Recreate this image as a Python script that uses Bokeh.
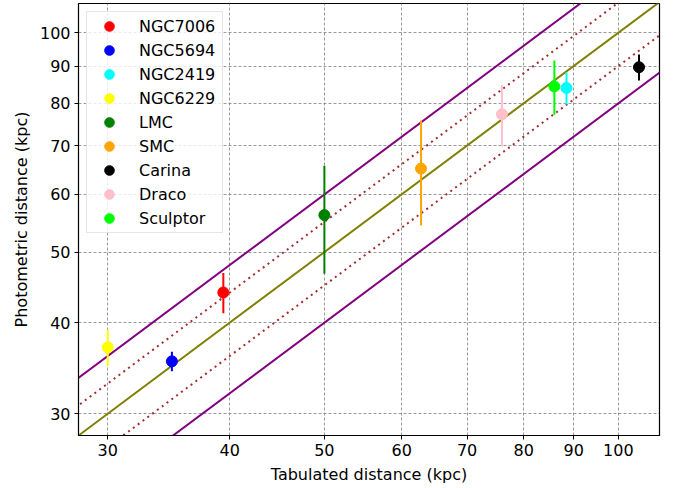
from bokeh.plotting import figure
from bokeh.models import Range1d, FixedTicker, NumeralTickFormatter, Legend, LegendItem
from bokeh.embed import file_html
from bokeh.resources import INLINE

# ---- data ----
names = ["NGC7006", "NGC5694", "NGC2419", "NGC6229", "LMC", "SMC", "Carina", "Draco", "Sculptor"]
colors = ["red", "blue", "cyan", "yellow", "green", "orange", "black", "pink", "lime"]
tabulated = [39.4, 34.9, 88.5, 30.0, 50.0, 62.8, 105.0, 76.0, 86.0]
photometric = [44.0, 35.4, 84.0, 37.0, 56.2, 65.1, 89.7, 77.3, 84.4]
errors = [2.8, 1.1, 4.3, 2.1, 9.5, 10.7, 3.7, 7.5, 7.2]

ticks = [30, 40, 50, 60, 70, 80, 90, 100]
line_x = [20.0, 130.0]
line_factors = [1.0, 1.1, 0.9, 1.2, 0.8]
line_colors = ["#808000", "#a52a2a", "#a52a2a", "#800080", "#800080"]
line_dashes = ["solid", "2 4", "2 4", "solid", "solid"]

FONT = "DejaVu Sans"
FS = "16px"

p = figure(width=674, height=488, x_axis_type="log", y_axis_type="log",
           x_range=Range1d(28.0, 110.2), y_range=Range1d(28.0, 109.7),
           output_backend="svg", toolbar_location=None,
           min_border_left=78, min_border_right=15, min_border_top=3, min_border_bottom=53)
p.background_fill_color = "white"
p.border_fill_color = "white"
p.outline_line_color = "black"
p.outline_line_width = 1.2
p.outline_line_alpha = 1.0

for ax, lab in ((p.xaxis[0], "Tabulated distance (kpc)"), (p.yaxis[0], "Photometric distance (kpc)")):
    ax.ticker = FixedTicker(ticks=ticks, minor_ticks=[])
    ax.formatter = NumeralTickFormatter(format="0")
    ax.axis_label = lab
    ax.axis_label_text_font = FONT
    ax.axis_label_text_font_size = FS
    ax.axis_label_text_font_style = "normal"
    ax.axis_label_text_color = "black"
    ax.major_label_text_font = FONT
    ax.major_label_text_font_size = FS
    ax.major_label_text_color = "black"
    ax.major_tick_out = 4
    ax.major_tick_in = 0
    ax.minor_tick_out = 0
    ax.minor_tick_in = 0
    ax.axis_line_color = "black"
    ax.major_tick_line_color = "black"
    ax.axis_label_standoff = 6
    ax.major_label_standoff = 4

for g in (p.xgrid[0], p.ygrid[0]):
    g.ticker = FixedTicker(ticks=ticks, minor_ticks=[])
    g.grid_line_color = "#808080"
    g.grid_line_dash = "3 2"
    g.grid_line_width = 0.8

# reference lines y = k x
for k, c, d in zip(line_factors, line_colors, line_dashes):
    p.line(list(line_x), [k * x for x in line_x], line_color=c, line_width=2, line_dash=d)

items = []
for n, c, x, y, e in zip(names, colors, tabulated, photometric, errors):
    p.segment(x0=[x], y0=[y - e], x1=[x], y1=[y + e], line_color=c, line_width=2)
    r = p.scatter([x], [y], marker="circle", size=11, fill_color=c, line_color=c)
    items.append(LegendItem(label=n, renderers=[r]))

legend = Legend(items=items, location="top_left")
legend.margin = 8
legend.padding = 2
legend.spacing = 0
legend.glyph_height = 24
legend.glyph_width = 40
legend.label_height = 24
legend.label_standoff = 10
legend.label_width = 81
legend.label_text_font = FONT
legend.label_text_font_size = FS
legend.label_text_color = "black"
legend.border_line_color = "#cccccc"
legend.border_line_width = 1
legend.background_fill_color = "white"
legend.background_fill_alpha = 0.8
p.add_layout(legend, "center")

open("out.html", "w").write(file_html(p, INLINE))
